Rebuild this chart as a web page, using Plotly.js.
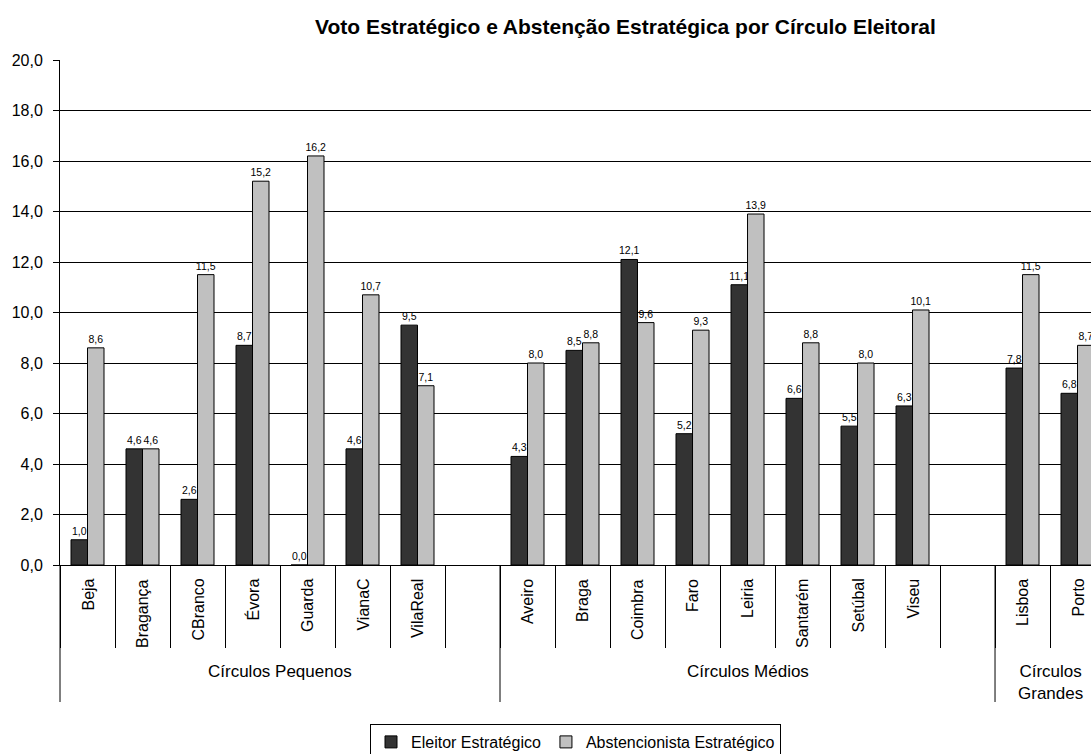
<!DOCTYPE html>
<html><head><meta charset="utf-8">
<script src="https://cdn.plot.ly/plotly-3.0.1.min.js"></script>
<style>html,body{margin:0;padding:0;background:#fff}</style>
</head><body><div id="chart" style="width:1091px;height:754px"></div>
<script>
const categories = ['Beja','Bragança','CBranco','Évora','Guarda','VianaC','VilaReal',' ','Aveiro','Braga','Coimbra','Faro','Leiria','Santarém','Setúbal','Viseu','  ','Lisboa','Porto'];
const eleitor = [1.0,4.6,2.6,8.7,0.0,4.6,9.5,null,4.3,8.5,12.1,5.2,11.1,6.6,5.5,6.3,null,7.8,6.8];
const abstencionista = [8.6,4.6,11.5,15.2,16.2,10.7,7.1,null,8.0,8.8,9.6,9.3,13.9,8.8,8.0,10.1,null,11.5,8.7];
const groupNames = ['Círculos Pequenos','Círculos Médios','Círculos<br>Grandes'];
const groupFirst = ['Beja','Aveiro','Lisboa'];
const groupLast = [' ','  ','Porto'];
const seriesNames = ['Eleitor Estratégico','Abstencionista Estratégico'];
const title = 'Voto Estratégico e Abstenção Estratégica por Círculo Eleitoral';

const FONT = 'Liberation Sans, Arial, sans-serif';
const H = 754, PLOT_TOP = 60, PLOT_BOTTOM = 565;
const pyToPaper = py => (PLOT_BOTTOM - py) / (PLOT_BOTTOM - PLOT_TOP);

const common = {
  type: 'bar', x: categories,
  texttemplate: '%{y:.1f}', textposition: 'outside', constraintext: 'none', cliponaxis: false,
  textfont: {family: FONT, size: 10.5, color: '#000'}, hoverinfo: 'skip'
};
const traces = [
  Object.assign({}, common, {y: eleitor, name: seriesNames[0], marker: {color: '#333333', line: {color: '#000', width: 1}}}),
  Object.assign({}, common, {y: abstencionista, name: seriesNames[1], marker: {color: '#C0C0C0', line: {color: '#000', width: 1}}})
];

const annotations = [];
categories.forEach((c, i) => {
  if (c.trim() === '') return;
  annotations.push({x: i, xref: 'x', y: pyToPaper(577), yref: 'paper', text: c, textangle: -90,
    xanchor: 'center', yanchor: 'top', showarrow: false, font: {family: FONT, size: 16, color: '#000'}});
});
const shapes = [];
shapes.push({type: 'line', xref: 'paper', yref: 'paper', x0: 0, x1: 0, y0: 0, y1: pyToPaper(702), line: {color: '#000', width: 1}});
groupNames.forEach((g, k) => {
  const i0 = categories.indexOf(groupFirst[k]);
  const i1 = categories.indexOf(groupLast[k]);
  annotations.push({x: (i0 + i1) / 2, xref: 'x', y: pyToPaper(660), yref: 'paper', text: g,
    xanchor: 'center', yanchor: 'top', showarrow: false, font: {family: FONT, size: 17, color: '#000'}});
  if (k > 0) shapes.push({type: 'line', xref: 'x', yref: 'paper', x0: i0 - 0.5, x1: i0 - 0.5, y0: 0, y1: pyToPaper(702), line: {color: '#000', width: 1}});
});
annotations.push({text: '<b>' + title + '</b>', xref: 'paper', yref: 'paper', x: (625 - 60) / 1031, y: pyToPaper(27),
  xanchor: 'center', yanchor: 'middle', showarrow: false, font: {family: FONT, size: 21, color: '#000'}});

const layout = {
  width: 1091, height: 754,
  margin: {l: 60, r: 0, t: PLOT_TOP, b: H - PLOT_BOTTOM, pad: 0, autoexpand: false},
  paper_bgcolor: '#fff', plot_bgcolor: '#fff',
  separators: ',.',
  barmode: 'group', bargap: 0.4, bargroupgap: 0,
  showlegend: true,
  legend: {orientation: 'h', x: 0.5, xanchor: 'center', y: pyToPaper(724), yanchor: 'top',
    bordercolor: '#000', borderwidth: 1, bgcolor: '#fff', font: {family: FONT, size: 16, color: '#000'},
    itemwidth: 30, tracegroupgap: 0},
  xaxis: {type: 'category', categoryorder: 'array', categoryarray: categories, range: [-0.5, 18.245],
    showticklabels: false, tickson: 'boundaries', ticks: 'outside', ticklen: 82, tickcolor: '#000', tickwidth: 1,
    showgrid: false, showline: true, linecolor: '#000', linewidth: 1, zeroline: false, fixedrange: true, automargin: false},
  yaxis: {range: [0, 20], dtick: 2, tick0: 0, tickformat: '.1f', ticks: 'outside', ticklen: 6, tickcolor: '#000',
    showline: true, linecolor: '#000', linewidth: 1, showgrid: true, gridcolor: '#000', gridwidth: 1,
    zeroline: false, ticklabelstandoff: 7, tickfont: {family: FONT, size: 16, color: '#000'}, fixedrange: true, automargin: false},
  annotations: annotations, shapes: shapes
};
Plotly.newPlot('chart', traces, layout, {displayModeBar: false, staticPlot: true});
</script></body></html>
